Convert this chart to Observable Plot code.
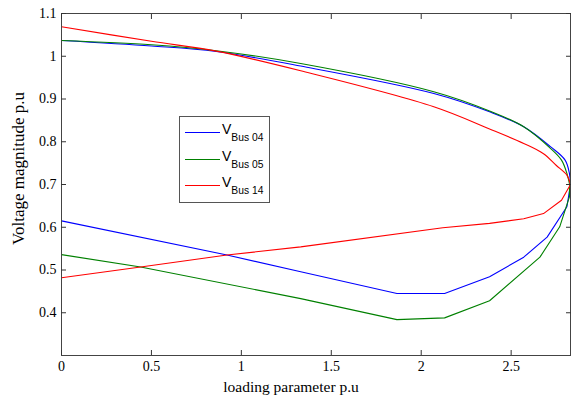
<!DOCTYPE html>
<html><head><meta charset="utf-8">
<script src="https://cdn.jsdelivr.net/npm/d3@7"></script>
<script src="https://cdn.jsdelivr.net/npm/@observablehq/plot@0.6"></script>
<style>
body{margin:0;background:#fff}
#wrap{position:relative;width:571px;height:398px;overflow:hidden}
</style>
</head><body>
<div id="wrap"></div>
<script>
const xTicks = [0, 0.5, 1, 1.5, 2, 2.5];
const yTicks = [0.4, 0.5, 0.6, 0.7, 0.8, 0.9, 1.0, 1.1];
const seriesNames = ["Bus 04", "Bus 05", "Bus 14"];
const seriesColors = ["#0000ff", "#008000", "#ff0000"];

// Bus 04 (upper branch then lower branch, path order)
const bus04X = [0, 0.5, 0.86, 1.33, 2.07, 2.38, 2.57, 2.72, 2.80, 2.824, 2.83, 2.81, 2.70, 2.57, 2.38, 2.13, 1.865, 1.33, 0.92, 0];
const bus04Y = [1.037, 1.024, 1.011, 0.977, 0.913, 0.870, 0.835, 0.788, 0.757, 0.726, 0.70, 0.648, 0.577, 0.53, 0.484, 0.445, 0.445, 0.496, 0.535, 0.615];
// Bus 05
const bus05X = [0, 0.5, 0.86, 1.33, 2.07, 2.38, 2.57, 2.72, 2.78, 2.81, 2.825, 2.824, 2.77, 2.66, 2.38, 2.13, 1.865, 1.33, 0.44, 0];
const bus05Y = [1.037, 1.027, 1.013, 0.983, 0.917, 0.872, 0.835, 0.784, 0.757, 0.726, 0.70, 0.671, 0.601, 0.53, 0.428, 0.388, 0.384, 0.433, 0.507, 0.536];
// Bus 14
const bus14X = [0, 0.5, 0.86, 1.33, 2.07, 2.38, 2.57, 2.68, 2.75, 2.81, 2.83, 2.78, 2.68, 2.57, 2.38, 2.12, 1.33, 0.92, 0.44, 0];
const bus14Y = [1.069, 1.035, 1.012, 0.966, 0.882, 0.830, 0.796, 0.772, 0.745, 0.722, 0.70, 0.663, 0.632, 0.62, 0.609, 0.599, 0.554, 0.535, 0.507, 0.482];

const xs = [bus04X, bus05X, bus14X];
const ys = [bus04Y, bus05Y, bus14Y];
const lineMarks = [];
seriesNames.forEach((name, k) => {
  const pts = xs[k].map((x, i) => ({series: name, x, y: ys[k][i]}));
  const nose = xs[k].indexOf(d3.max(xs[k]));
  const upper = pts.slice(0, nose + 1);
  const lower = pts.slice(nose);
  lineMarks.push(Plot.line(upper, {x: "x", y: "y", stroke: seriesColors[k], strokeWidth: 1.1, curve: "catmull-rom"}));
  lineMarks.push(Plot.line(lower, {x: "x", y: "y", stroke: seriesColors[k], strokeWidth: 1.1}));
});

const plot = Plot.plot({
  width: 571, height: 398,
  marginLeft: 61, marginRight: 1, marginTop: 13, marginBottom: 43,
  x: {domain: [0, 2.83]},
  y: {domain: [0.3, 1.1]},
  style: {fontFamily: "'Liberation Serif', 'Times New Roman', serif", fontSize: "14px", color: "#000", background: "#fff"},
  marks: [
    ...lineMarks,
    Plot.frame({stroke: "#444"}),
    Plot.axisX({ticks: xTicks, tickSize: -5, tickPadding: 11, label: null, tickFormat: d => String(d), stroke: "#333"}),
    Plot.axisX({anchor: "top", ticks: xTicks, tickSize: -5, text: null, label: null, stroke: "#333"}),
    Plot.axisY({ticks: yTicks, tickSize: -5, tickPadding: 10, label: null, tickFormat: d => String(d), stroke: "#333"}),
    Plot.axisY({anchor: "right", ticks: yTicks, tickSize: -5, text: null, label: null, stroke: "#333"}),
    Plot.text(["loading parameter p.u"], {text: d => d, frameAnchor: "bottom", textAnchor: "middle", lineAnchor: "middle", dx: -25, dy: 32, fontSize: 15.5}),
    Plot.text(["Voltage magnitude p.u"], {text: d => d, frameAnchor: "left", textAnchor: "middle", lineAnchor: "middle", rotate: -90, dx: -43, dy: -16, fontSize: 17})
  ]
});
const wrap = document.getElementById("wrap");
wrap.appendChild(plot);

// legend box drawn inside the plot's SVG
const svg = d3.select(plot);
const lg = svg.append("g")
  .attr("font-family", "'Liberation Sans', Arial, sans-serif")
  .attr("text-anchor", "start")
  .attr("fill", "#000");
lg.append("rect").attr("x", 179.5).attr("y", 116.5).attr("width", 90).attr("height", 86)
  .attr("fill", "#fff").attr("stroke", "#555").attr("stroke-width", 1);
seriesNames.forEach((name, k) => {
  const yy = 132.5 + Math.round(k * 26.6);
  lg.append("path").attr("d", `M185,${yy}H220`)
    .attr("fill", "none")
    .style("stroke", seriesColors[k]).style("stroke-width", "1.2px");
  const t = lg.append("text").attr("x", 222).attr("y", yy + 1.5).attr("font-size", 14).attr("text-anchor", "start");
  t.append("tspan").text("V");
  t.append("tspan").attr("dy", 7).attr("font-size", 10.3).text(name);
});
</script>
</body></html>
